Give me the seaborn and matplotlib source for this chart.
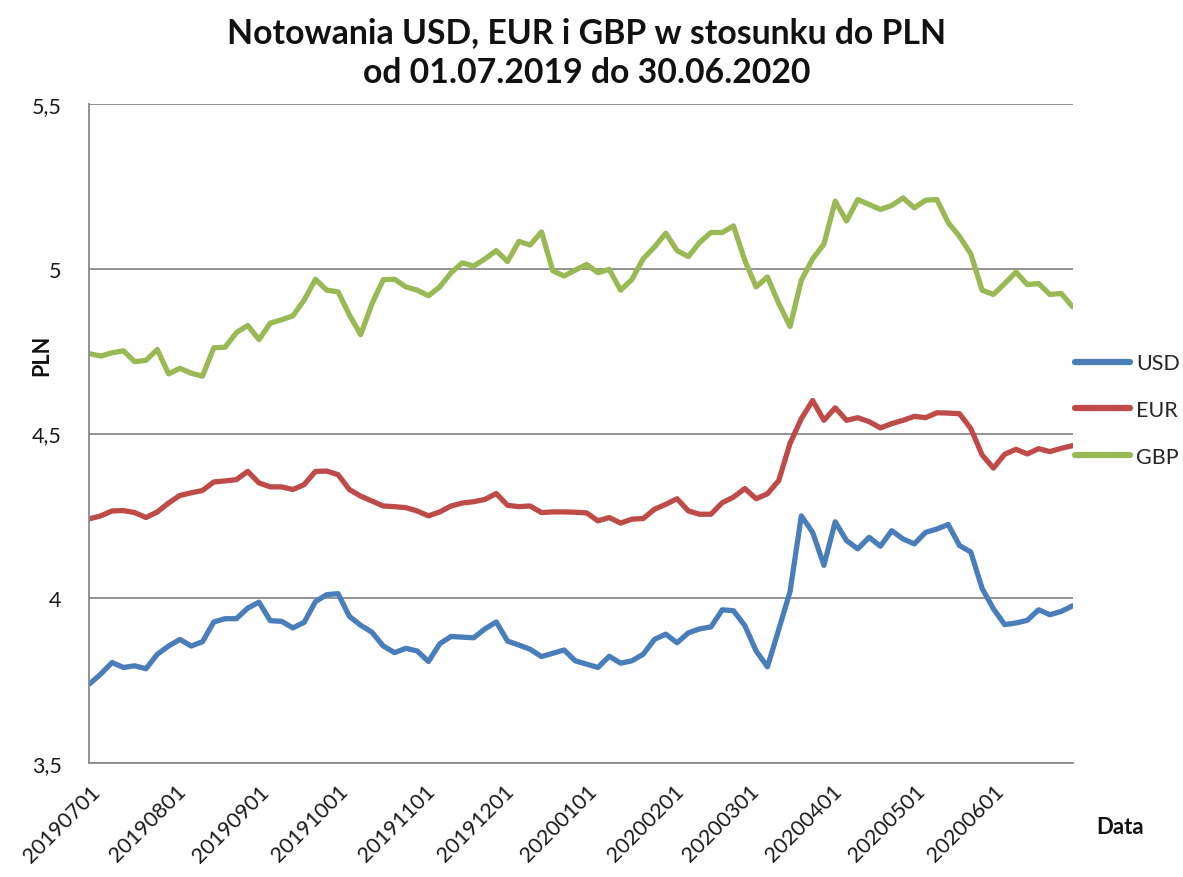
import numpy as np
import pandas as pd
import matplotlib
matplotlib.use("Agg")
import matplotlib.pyplot as plt
import seaborn as sns

# ---- data (one value every 3 business days) ----
usd = [3.740, 3.770, 3.805, 3.790, 3.795, 3.786, 3.830, 3.855, 3.875, 3.855,
       3.868, 3.928, 3.938, 3.938, 3.970, 3.988, 3.932, 3.930, 3.910, 3.927,
       3.990, 4.011, 4.014, 3.945, 3.918, 3.897, 3.855, 3.835, 3.848, 3.840,
       3.808, 3.862, 3.884, 3.882, 3.880, 3.907, 3.928, 3.870, 3.858, 3.845,
       3.823, 3.833, 3.843, 3.810, 3.800, 3.790, 3.824, 3.803, 3.810, 3.830,
       3.875, 3.891, 3.865, 3.895, 3.907, 3.913, 3.965, 3.962, 3.917, 3.840,
       3.792, 3.905, 4.020, 4.250, 4.200, 4.100, 4.232, 4.175, 4.150, 4.185,
       4.158, 4.205, 4.180, 4.165, 4.200, 4.210, 4.224, 4.160, 4.140, 4.030,
       3.968, 3.920, 3.925, 3.933, 3.965, 3.950, 3.960, 3.977]

eur = [4.241, 4.250, 4.265, 4.266, 4.260, 4.245, 4.262, 4.289, 4.312, 4.320,
       4.327, 4.353, 4.356, 4.360, 4.385, 4.350, 4.338, 4.338, 4.330, 4.345,
       4.385, 4.386, 4.375, 4.330, 4.310, 4.295, 4.280, 4.278, 4.275, 4.265,
       4.250, 4.262, 4.280, 4.289, 4.293, 4.300, 4.318, 4.282, 4.278, 4.280,
       4.260, 4.262, 4.262, 4.261, 4.259, 4.235, 4.245, 4.228, 4.240, 4.242,
       4.270, 4.285, 4.302, 4.265, 4.255, 4.255, 4.290, 4.307, 4.333, 4.302,
       4.317, 4.357, 4.470, 4.545, 4.600, 4.540, 4.578, 4.540, 4.548, 4.536,
       4.517, 4.530, 4.540, 4.552, 4.548, 4.563, 4.562, 4.560, 4.515, 4.435,
       4.395, 4.437, 4.452, 4.438, 4.454, 4.445, 4.455, 4.463]

gbp = [4.742, 4.735, 4.745, 4.751, 4.718, 4.722, 4.755, 4.681, 4.698, 4.683,
       4.674, 4.760, 4.762, 4.806, 4.828, 4.785, 4.835, 4.845, 4.857, 4.905,
       4.968, 4.935, 4.930, 4.860, 4.800, 4.894, 4.967, 4.968, 4.945, 4.935,
       4.918, 4.945, 4.988, 5.018, 5.008, 5.030, 5.055, 5.022, 5.083, 5.072,
       5.112, 4.994, 4.978, 4.996, 5.013, 4.988, 4.998, 4.935, 4.967, 5.030,
       5.066, 5.108, 5.055, 5.037, 5.080, 5.110, 5.110, 5.130, 5.025, 4.945,
       4.975, 4.895, 4.825, 4.965, 5.030, 5.075, 5.205, 5.145, 5.210, 5.195,
       5.180, 5.192, 5.215, 5.185, 5.208, 5.210, 5.140, 5.098, 5.045, 4.935,
       4.922, 4.955, 4.990, 4.952, 4.955, 4.922, 4.925, 4.885]

month_labels = ["20190701", "20190801", "20190901", "20191001", "20191101",
                "20191201", "20200101", "20200201", "20200301", "20200401",
                "20200501", "20200601"]
y_ticks = [3.5, 4.0, 4.5, 5.0, 5.5]
y_tick_labels = ["3,5", "4", "4,5", "5", "5,5"]
series_names = ["USD", "EUR", "GBP"]
colors = ["#4A7EBB", "#BE4B48", "#98B954"]

start_date, end_date, step = "2019-07-01", "2020-06-30", 3

# ---- build table ----
bdays = pd.bdate_range(start_date, end_date)
pos = np.arange(len(bdays))[::step][:len(usd)]
df = pd.DataFrame({"pos": pos, "USD": usd, "EUR": eur, "GBP": gbp})
long = df.melt("pos", var_name="Waluta", value_name="PLN")
tick_pos = [int(bdays.searchsorted(pd.Timestamp(m))) for m in month_labels]

# ---- plot ----
sns.set_theme(style="white")
plt.rcParams["font.family"] = ["Lato", "DejaVu Sans"]

W, H = 1183, 878
fig = plt.figure(figsize=(W / 100, H / 100), dpi=100)
fig.patch.set_facecolor("white")
ax = fig.add_axes([89.5 / W, 1 - 764 / H, 983 / W, 659 / H])

sns.lineplot(data=long, x="pos", y="PLN", hue="Waluta", hue_order=series_names,
             palette=colors, linewidth=3.8, ax=ax, legend=True)
for ln in ax.lines:
    ln.set_solid_joinstyle("round")
    ln.set_solid_capstyle("round")

ax.set_xlim(0, len(bdays) - 1)
ax.set_ylim(3.5, 5.5)
ax.set_yticks(y_ticks)
ax.set_yticklabels(y_tick_labels)
ax.set_xticks(tick_pos)
ax.set_xticklabels(month_labels, rotation=45, ha="right", rotation_mode="anchor")
ax.tick_params(axis="y", length=0, pad=20, labelsize=15.5, labelcolor="#1a1a1a")
ax.tick_params(axis="x", length=0, pad=13, labelsize=15.5, labelcolor="#1a1a1a")
ax.set_xlabel("")
ax.set_ylabel("")

ax.yaxis.grid(True, color="#8a8a8a", linewidth=1.3)
ax.xaxis.grid(False)
ax.set_axisbelow(True)
for s in ["top", "right"]:
    ax.spines[s].set_visible(False)
for s in ["left", "bottom"]:
    ax.spines[s].set_color("#8a8a8a")
    ax.spines[s].set_linewidth(1.3)

handles, labels = ax.get_legend_handles_labels()
for h in handles:
    h.set_linewidth(4.5)
ax.legend(handles, labels, loc="center left",
          bbox_to_anchor=(1075 / W, 1 - 411 / H), bbox_transform=fig.transFigure,
          frameon=False, fontsize=15.5, handlelength=2.55, handletextpad=0.3,
          labelspacing=1.25, borderpad=0, borderaxespad=0)

fig.text(587 / W, 1 - 53 / H,
         "Notowania USD, EUR i GBP w stosunku do PLN\nod 01.07.2019 do 30.06.2020",
         ha="center", va="center", fontsize=24.3, fontweight="bold",
         linespacing=1.32, color="#111111")
fig.text(42 / W, 1 - 355 / H, "PLN", rotation=90, ha="center", va="center",
         fontsize=15.5, fontweight="bold", color="#111111")
fig.text(1120 / W, 1 - 828 / H, "Data", ha="center", va="center",
         fontsize=16, fontweight="bold", color="#111111")

fig.savefig("out.png", dpi=100, facecolor="white")
